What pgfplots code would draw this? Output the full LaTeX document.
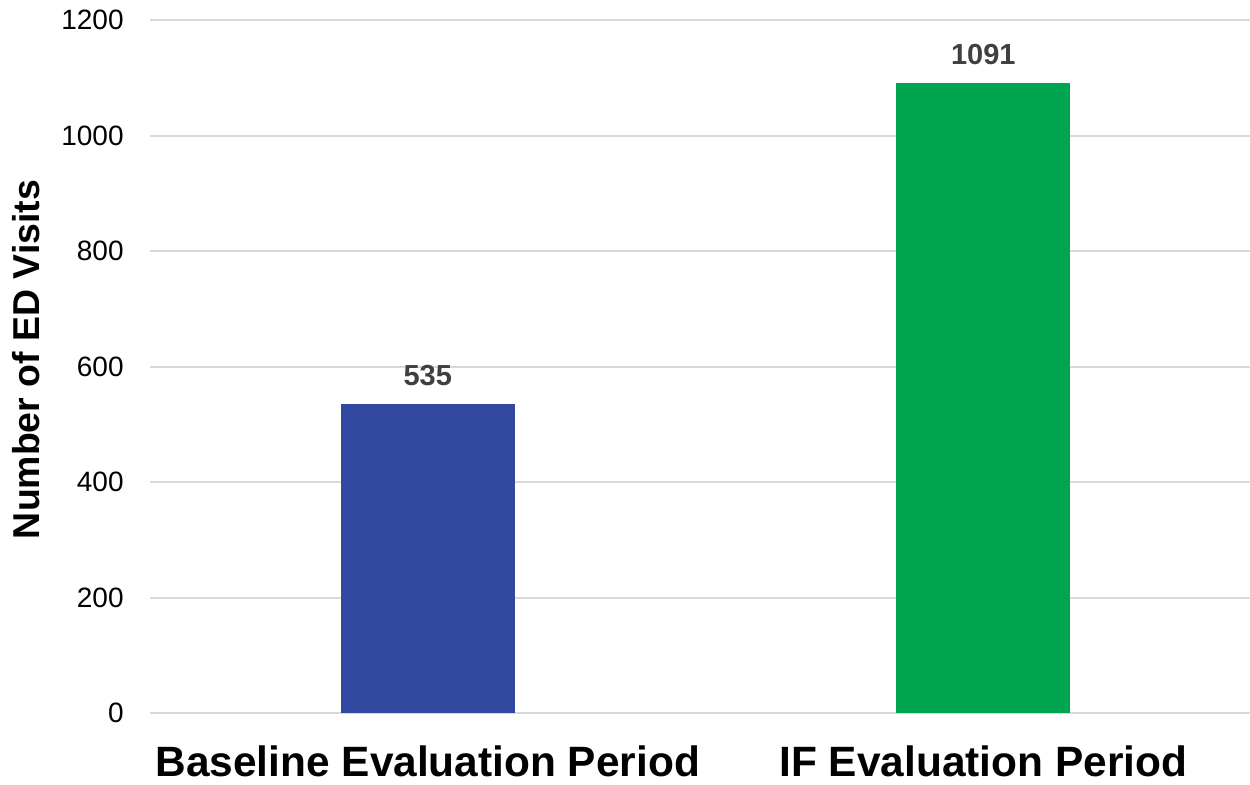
\documentclass[border=0pt]{standalone}
\usepackage{fontspec}
\setmainfont{Liberation Sans}
\usepackage{pgfplots}
\pgfplotsset{compat=1.18}
\definecolor{barblue}{RGB}{50,71,158}
\definecolor{bargreen}{RGB}{0,165,79}
\definecolor{lblgray}{RGB}{64,64,64}
\definecolor{gridgray}{RGB}{217,217,217}
\begin{document}
\begin{tikzpicture}
\begin{axis}[
  scale only axis,
  width=550pt, height=346.5pt,
  xmin=-0.5, xmax=1.48,
  ymin=0, ymax=1200,
  ytick={0,200,...,1200},
  xtick={0,1},
  xticklabels={Baseline Evaluation Period, IF Evaluation Period},
  /pgf/number format/assume math mode=true,
  /pgf/number format/1000 sep={},
  axis line style={draw=none},
  tick style={draw=none},
  ymajorgrids,
  grid style={draw=gridgray, line width=1pt},
  yticklabel style={font=\fontsize{14}{16}\selectfont, inner sep=0pt, xshift=-13pt},
  xticklabel style={font=\fontsize{21.2}{24}\bfseries\selectfont, inner sep=0pt, yshift=-12pt},
  ylabel={Number of ED Visits},
  ylabel style={font=\fontsize{18.7}{21}\bfseries\selectfont, at={(axis description cs:-0.1127,0.51)}, anchor=center},
  ybar, bar width=87pt,
  nodes near coords,
  nodes near coords style={font=\fontsize{14.5}{17}\bfseries\selectfont, text=lblgray, inner sep=0pt, anchor=south, yshift=9pt},
]
\addplot[bar shift=0pt, fill=barblue, draw=none] coordinates {(0,535)};
\addplot[bar shift=0pt, fill=bargreen, draw=none] coordinates {(1,1091)};
\end{axis}
\pgfresetboundingbox
\path (-75pt,-35.5pt) rectangle (550pt,356.5pt);
\end{tikzpicture}
\end{document}
